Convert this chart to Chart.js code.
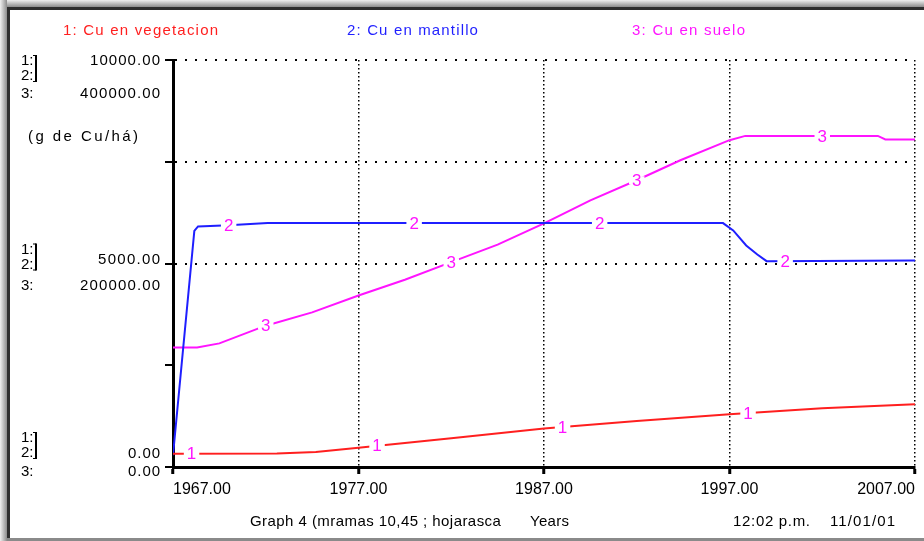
<!DOCTYPE html>
<html lang="es">
<head>
<meta charset="UTF-8" />
<title>Graph 4</title>
<script src="https://cdn.jsdelivr.net/npm/chart.js"></script>
<style>
  html, body { margin: 0; padding: 0; background: #fff; }
  #wrap { position: relative; width: 924px; height: 541px; overflow: hidden; }
  #graph { position: absolute; left: 0; top: 0; }
  .edge { position: absolute; }
</style>
</head>
<body>
<div id="wrap">
  <canvas id="graph" width="924" height="541"></canvas>
  <!-- marco de la ventana -->
  <div class="edge" style="left:0;top:0;width:924px;height:7px;background:linear-gradient(#f0f0f0,#8c8c8c)"></div>
  <div class="edge" style="left:0;top:0;width:7px;height:541px;background:linear-gradient(90deg,#f0f0f0,#8c8c8c)"></div>
  <div class="edge" style="left:7px;top:7px;width:917px;height:3px;background:#2e2e2e"></div>
  <div class="edge" style="left:7px;top:7px;width:3px;height:534px;background:#2e2e2e"></div>
  <div class="edge" style="left:7px;top:538px;width:917px;height:3px;background:#8a8a8a"></div>
</div>

<script>
// Series (años / valores)
const vegYears  = [1967, 1972.6, 1974.7, 1977, 1982, 1987, 1992, 1997, 2002, 2007];
const vegValues = [328, 330, 370, 475, 707, 948, 1133, 1298, 1446, 1544];

const mantYears  = [1967, 1968.15, 1968.35, 1970, 1972.1, 1996.65, 1997.2, 1997.9, 1998.5, 1999.0, 2007];
const mantValues = [290, 5800, 5911, 5940, 5993, 5993, 5813, 5443, 5222, 5057, 5074];

const sueloYears  = [1967, 1968.3, 1969.5, 1972, 1974.5, 1977, 1979.5, 1982, 1984.5, 1987, 1989.5, 1992, 1994.35, 1997, 1997.85, 2005, 2005.4, 2007];
const sueloValues = [117500, 117500, 121500, 138900, 152000, 168500, 184000, 201300, 218500, 239400, 262000, 281800, 301500, 321200, 325400, 325400, 321900, 321900];

const seriesNames  = ['1: Cu en vegetacion', '2: Cu en mantillo', '3: Cu en suelo'];
const seriesColors = ['#ff1f1f', '#1f1fff', '#ff14ff'];

// marcas numericas sobre cada linea
const vegMarks   = [1968, 1978, 1988, 1998];
const mantMarks  = [1970, 1980, 1990, 2000];
const sueloMarks = [1972, 1982, 1992, 2002];

// ticks y etiquetas de ejes
const xTicks = [1967, 1977, 1987, 1997, 2007];
const yTicks = [0, 2500, 5000, 7500, 10000];
const labelValues = [10000, 5000, 0];
const labels12 = ['10000.00', '5000.00', '0.00'];
const labels3  = ['400000.00', '200000.00', '0.00'];
const unitLabel = '(g de Cu/há)';
const footer = ['Graph 4 (mramas 10,45 ; hojarasca', 'Years', '12:02 p.m.', '11/01/01'];

const FONT = '"Liberation Sans", Arial, sans-serif';

function pts(xs, ys) {
  return xs.map((x, i) => ({ x: x, y: ys[i] }));
}

function interp(xs, ys, x) {
  for (let i = 1; i < xs.length; i++) {
    if (x <= xs[i]) {
      const t = (x - xs[i - 1]) / (xs[i] - xs[i - 1]);
      return ys[i - 1] + t * (ys[i] - ys[i - 1]);
    }
  }
  return ys[ys.length - 1];
}

// texto estirado a un ancho dado (letra ancha como en el original)
function fitText(ctx, text, left, y, width) {
  ctx.letterSpacing = '0px';
  const w = ctx.measureText(text).width;
  const sp = text.length > 1 ? (width - w) / (text.length - 1) : 0;
  ctx.letterSpacing = sp.toFixed(2) + 'px';
  ctx.textAlign = 'left';
  ctx.fillText(text, left, y);
  ctx.letterSpacing = '0px';
}

const stellaText = {
  id: 'stellaText',
  afterDatasetsDraw(chart) {
    const ctx = chart.ctx;
    const xs = chart.scales.x;
    const sets = [
      [vegYears, vegValues, vegMarks, '1', chart.scales.y],
      [mantYears, mantValues, mantMarks, '2', chart.scales.y],
      [sueloYears, sueloValues, sueloMarks, '3', chart.scales.y3]
    ];
    ctx.save();
    ctx.font = '17px ' + FONT;
    ctx.textAlign = 'center';
    ctx.textBaseline = 'middle';
    sets.forEach(s => {
      s[2].forEach(yr => {
        const px = xs.getPixelForValue(yr);
        const py = s[4].getPixelForValue(interp(s[0], s[1], yr));
        const w = ctx.measureText(s[3]).width;
        ctx.fillStyle = '#fff';
        ctx.fillRect(px - w / 2 - 3, py - 4, w + 6, 8);
        ctx.fillStyle = '#ff14ff';
        ctx.fillText(s[3], px, py + 1);
      });
    });
    ctx.restore();
  },
  afterDraw(chart) {
    const ctx = chart.ctx;
    const ys = chart.scales.y;
    ctx.save();
    ctx.textBaseline = 'middle';
    ctx.font = '15px ' + FONT;

    // leyenda
    const legLeft = [63, 347, 632];
    const legWidth = [155, 131, 113];
    seriesNames.forEach((n, i) => {
      ctx.fillStyle = seriesColors[i];
      fitText(ctx, n, legLeft[i], 31, legWidth[i]);
    });

    // etiquetas del eje vertical
    ctx.fillStyle = '#000';
    const offs = [[1, 34], [-4, 22], [-13, 5]];
    const keyTop = [0, -10, -16];
    const w12 = [70, 62, 32];
    const w3 = [80, 80, 32];
    labelValues.forEach((v, i) => {
      const py = ys.getPixelForValue(v);
      const y1 = py + offs[i][0];
      const y3 = py + offs[i][1];
      fitText(ctx, labels12[i], 160 - w12[i], y1, w12[i]);
      fitText(ctx, labels3[i], 160 - w3[i], y3, w3[i]);
      // 1: 2: 3: con corchete
      const top = y1 + keyTop[i];
      const yy = [top, top + 15, y3];
      ctx.textAlign = 'left';
      ctx.fillText('1:', 21, yy[0]);
      ctx.fillText('2:', 21, yy[1]);
      ctx.fillText('3:', 21, yy[2]);
      ctx.fillRect(35, yy[0] - 6, 2, yy[1] - yy[0] + 12);
      ctx.fillRect(33, yy[0] - 6, 3, 1);
      ctx.fillRect(33, yy[1] + 5, 3, 1);
    });
    fitText(ctx, unitLabel, 28, 137, 110);

    // pie
    fitText(ctx, footer[0], 250, 522, 251);
    fitText(ctx, footer[1], 530, 522, 39);
    fitText(ctx, footer[2], 733, 522, 77);
    fitText(ctx, footer[3], 830, 522, 65);
    ctx.restore();
  }
};

new Chart(document.getElementById('graph'), {
  type: 'line',
  data: {
    datasets: [
      { label: seriesNames[0], data: pts(vegYears, vegValues), borderColor: seriesColors[0], yAxisID: 'y' },
      { label: seriesNames[1], data: pts(mantYears, mantValues), borderColor: seriesColors[1], yAxisID: 'y' },
      { label: seriesNames[2], data: pts(sueloYears, sueloValues), borderColor: seriesColors[2], yAxisID: 'y3' }
    ]
  },
  options: {
    responsive: false,
    animation: false,
    layout: { padding: { left: 0, top: 60, right: 9, bottom: 0 } },
    elements: { point: { radius: 0 }, line: { borderWidth: 2, tension: 0 } },
    plugins: { legend: { display: false }, tooltip: { enabled: false } },
    scales: {
      x: {
        type: 'linear', min: 1967, max: 2007,
        afterBuildTicks: s => { s.ticks = xTicks.map(v => ({ value: v })); },
        afterFit: s => { s.height = 74; },
        ticks: {
          callback: v => v.toFixed(2), align: 'inner', maxRotation: 0, padding: 6,
          color: '#000', font: { family: FONT, size: 16 }
        },
        grid: {
          color: c => (c.tick && c.tick.value > 1967) ? '#000' : 'rgba(0,0,0,0)',
          lineWidth: 1.5, tickColor: '#000', tickWidth: 3, tickLength: 7
        },
        border: { color: '#000', width: 3, dash: [1.5, 2.5] }
      },
      y: {
        min: 0, max: 10000,
        afterBuildTicks: s => { s.ticks = yTicks.map(v => ({ value: v })); },
        afterFit: s => { s.width = 173; },
        ticks: { display: false },
        grid: {
          color: c => (c.tick && c.tick.value >= 5000) ? '#000' : 'rgba(0,0,0,0)',
          lineWidth: 2, tickColor: '#000', tickWidth: 2, tickLength: 8
        },
        border: { color: '#000', width: 3, dash: [2, 8] }
      },
      y3: { display: false, min: 0, max: 400000 }
    }
  },
  plugins: [stellaText]
});
</script>
</body>
</html>
